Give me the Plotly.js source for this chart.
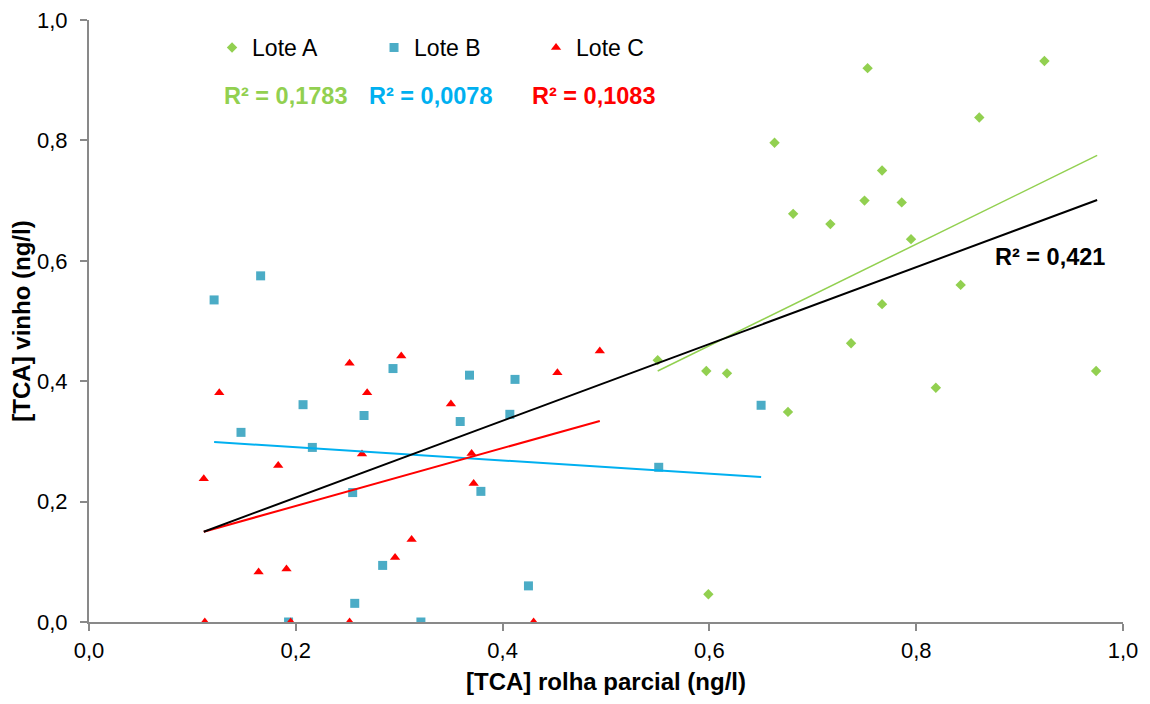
<!DOCTYPE html>
<html><head><meta charset="utf-8">
<script src="https://cdn.plot.ly/plotly-3.0.1.min.js"></script>
<style>html,body{margin:0;padding:0;background:#fff}#chart{width:1150px;height:704px}</style>
</head><body><div id="chart"></div>
<script>
// Lote A
const loteA_x = [0.753,0.924,0.861,0.663,0.767,0.681,0.717,0.750,0.786,0.795,0.843,0.767,0.737,0.550,0.597,0.617,0.676,0.819,0.974,0.599];
const loteA_y = [0.920,0.932,0.838,0.796,0.750,0.678,0.661,0.700,0.697,0.636,0.560,0.528,0.463,0.435,0.417,0.413,0.349,0.389,0.417,0.046];
// Lote B
const loteB_x = [0.121,0.166,0.147,0.207,0.216,0.266,0.294,0.368,0.359,0.255,0.284,0.257,0.193,0.321,0.412,0.407,0.379,0.551,0.425,0.650];
const loteB_y = [0.535,0.575,0.315,0.361,0.290,0.343,0.421,0.410,0.333,0.215,0.094,0.031,0.000,0.000,0.403,0.345,0.217,0.257,0.060,0.360];
// Lote C
const loteC_x = [0.111,0.126,0.183,0.164,0.191,0.252,0.269,0.302,0.264,0.350,0.370,0.372,0.296,0.312,0.112,0.195,0.252,0.453,0.494,0.430];
const loteC_y = [0.238,0.381,0.260,0.083,0.088,0.430,0.381,0.442,0.279,0.362,0.280,0.230,0.107,0.137,0.000,0.000,0.000,0.414,0.450,0.000];
// trendline endpoints (x range, y at ends)
const trendA = {x:[0.550,0.975], y:[0.417,0.775]};
const trendB = {x:[0.121,0.650], y:[0.299,0.241]};
const trendC = {x:[0.111,0.494], y:[0.150,0.334]};
const trendAll = {x:[0.111,0.975], y:[0.150,0.701]};
const r2Labels = ["R² = 0,1783","R² = 0,0078","R² = 0,1083","R² = 0,421"];
const tickVals = [0,0.2,0.4,0.6,0.8,1.0];

const F = "Arial, 'Liberation Sans', sans-serif";
const traces = [
  {x:loteA_x,y:loteA_y,mode:'markers',type:'scatter',name:'Lote A',marker:{symbol:'diamond',size:8,color:'#92D050'}},
  {x:loteB_x,y:loteB_y,mode:'markers',type:'scatter',name:'Lote B',marker:{symbol:'square',size:9,color:'#4BACC6'}},
  {x:loteC_x,y:loteC_y,mode:'markers',type:'scatter',name:'Lote C',marker:{symbol:'triangle-up',size:9,color:'#FF0000'}},
  {x:trendA.x,y:trendA.y,mode:'lines',type:'scatter',showlegend:false,line:{color:'#92D050',width:1.5}},
  {x:trendB.x,y:trendB.y,mode:'lines',type:'scatter',showlegend:false,line:{color:'#00B0F0',width:2}},
  {x:trendC.x,y:trendC.y,mode:'lines',type:'scatter',showlegend:false,line:{color:'#FF0000',width:2}},
  {x:trendAll.x,y:trendAll.y,mode:'lines',type:'scatter',showlegend:false,line:{color:'#000000',width:2}}
];
const ax = {
  range:[0,1], tickvals:tickVals, tickformat:'.1f', showgrid:false, zeroline:false,
  showline:true, linecolor:'#898989', linewidth:2, ticks:'outside', ticklen:7, tickwidth:2, tickcolor:'#898989',
  tickfont:{family:F,size:22,color:'#000'}, automargin:false
};
const layout = {
  width:1150, height:704, separators:', ',
  margin:{l:89,r:27,t:20,b:82},
  paper_bgcolor:'#fff', plot_bgcolor:'#fff',
  xaxis:Object.assign({},ax,{ticklabelstandoff:1,title:{text:'<b>[TCA] rolha parcial (ng/l)</b>',font:{family:F,size:24,color:'#000'},standoff:11}}),
  yaxis:Object.assign({},ax,{ticklabelstandoff:8,title:{text:'<b>[TCA] vinho (ng/l)</b>',font:{family:F,size:24,color:'#000'},standoff:0}}),
  showlegend:true,
  legend:{orientation:'h',x:0.119,y:0.99,xanchor:'left',yanchor:'top',entrywidth:117,entrywidthmode:'pixels',
    font:{family:F,size:23,color:'#000'},bgcolor:'rgba(0,0,0,0)'},
  annotations:[
    {xref:'paper',yref:'paper',x:(222-89)/1034,y:(621.7-96)/601.5,xanchor:'left',yanchor:'middle',showarrow:false,text:'<b>'+r2Labels[0]+'</b>',font:{family:F,size:23.5,color:'#92D050'}},
    {xref:'paper',yref:'paper',x:(367-89)/1034,y:(621.7-96)/601.5,xanchor:'left',yanchor:'middle',showarrow:false,text:'<b>'+r2Labels[1]+'</b>',font:{family:F,size:23.5,color:'#00B0F0'}},
    {xref:'paper',yref:'paper',x:(530-89)/1034,y:(621.7-96)/601.5,xanchor:'left',yanchor:'middle',showarrow:false,text:'<b>'+r2Labels[2]+'</b>',font:{family:F,size:23.5,color:'#FF0000'}},
    {xref:'paper',yref:'paper',x:(993-89)/1034,y:(621.7-257)/601.5,xanchor:'left',yanchor:'middle',showarrow:false,text:'<b>'+r2Labels[3]+'</b>',font:{family:F,size:23.5,color:'#000'}}
  ]
};
Plotly.newPlot('chart',traces,layout,{staticPlot:true});
</script></body></html>
